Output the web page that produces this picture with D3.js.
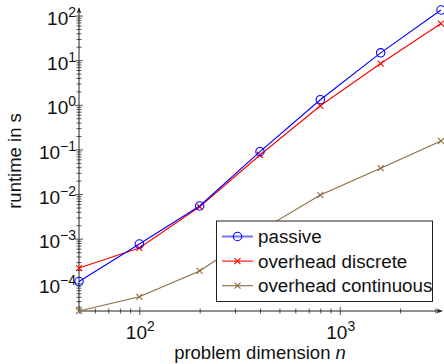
<!DOCTYPE html>
<html>
<head>
<meta charset="utf-8">
<script src="https://cdn.jsdelivr.net/npm/d3@7"></script>
<style>
  body { margin: 0; background: #fff; }
  svg { display: block; font-family: "Liberation Sans", Arial, sans-serif; }
</style>
</head>
<body>
<svg id="chart" width="444" height="364"></svg>
<script>
// problem dimension n
var dims = [50, 100, 200, 400, 800, 1600, 3200];
// runtime in s
var passive = [1.1e-4, 7.6e-4, 5.4e-3, 0.089, 1.3, 14.6, 133];
var overheadDiscrete = [2.2e-4, 6.2e-4, 5.2e-3, 0.075, 0.95, 8.4, 66];
var overheadContinuous = [2.4e-5, 5.0e-5, 1.9e-4, 1.5e-3, 9.5e-3, 0.038, 0.155];
var seriesNames = ['passive', 'overhead discrete', 'overhead continuous'];
var xTickExps = [2, 3];
var yTickExps = [-4, -3, -2, -1, 0, 1, 2];

var series = [
    {name: seriesNames[0], values: passive, color: '#0000ff', mark: 'o'},
    {name: seriesNames[1], values: overheadDiscrete, color: '#ff0000', mark: 'x'},
    {name: seriesNames[2], values: overheadContinuous, color: '#8f6a3f', mark: 'x'}
];

var svg = d3.select('#chart');
var allVals = passive.concat(overheadDiscrete, overheadContinuous);

var x = d3.scaleLog().domain(d3.extent(dims)).range([79, 441]);
var y = d3.scaleLog().domain(d3.extent(allVals)).range([311, 10]);

function minorTicks(scale) {
    var d = scale.domain(), out = [];
    var lo = Math.floor(Math.log10(d[0])), hi = Math.ceil(Math.log10(d[1]));
    for (var k = lo; k <= hi; k++) {
        for (var m = 1; m < 10; m++) {
            var v = m * Math.pow(10, k);
            if (v >= d[0] * 0.999 && v <= d[1] * 1.001) out.push(v);
        }
    }
    return out;
}

// y axis
var yAxis = svg.append('g').attr('transform', 'translate(79,0)')
    .call(d3.axisLeft(y).tickValues(minorTicks(y)).tickFormat('').tickSizeOuter(0));
yAxis.select('.domain').remove();
yAxis.selectAll('.tick line').attr('stroke', '#555')
    .attr('x1', function(d) { return Number.isInteger(Math.log10(d)) ? -4 : -2.5; })
    .attr('x2', function(d) { return Number.isInteger(Math.log10(d)) ? 4 : 2.5; });

// x axis
var xAxis = svg.append('g').attr('transform', 'translate(0,311)')
    .call(d3.axisBottom(x).tickValues(minorTicks(x)).tickFormat('').tickSizeOuter(0));
xAxis.select('.domain').remove();
xAxis.selectAll('.tick line').attr('stroke', '#555')
    .attr('y1', function(d) { return Number.isInteger(Math.log10(d)) ? -4 : -2.5; })
    .attr('y2', function(d) { return Number.isInteger(Math.log10(d)) ? 4 : 2.5; });

// axis lines with arrows
svg.append('defs').append('marker')
    .attr('id', 'arrow').attr('viewBox', '0 0 10 10')
    .attr('refX', 9).attr('refY', 5)
    .attr('markerWidth', 6).attr('markerHeight', 6)
    .attr('orient', 'auto')
    .append('path').attr('d', 'M0,1 L10,5 L0,9 L2.5,5 Z').attr('fill', '#222');

svg.append('line').attr('x1', 79).attr('y1', 311).attr('x2', 79).attr('y2', 8)
    .attr('stroke', '#222').attr('stroke-width', 1).attr('marker-end', 'url(#arrow)');
svg.append('line').attr('x1', 79).attr('y1', 311).attr('x2', 442).attr('y2', 311)
    .attr('stroke', '#222').attr('stroke-width', 1).attr('marker-end', 'url(#arrow)');

// tick labels
function powLabel(g, exp) {
    g.append('tspan').text('10');
    g.append('tspan').attr('font-size', 14).attr('dy', -8).text(exp < 0 ? '\u2212' + (-exp) : exp);
}
yTickExps.forEach(function(e) {
    var t = svg.append('text').attr('x', 76).attr('y', y(Math.pow(10, e)) + 9.5)
        .attr('text-anchor', 'end').attr('font-size', 19).attr('fill', '#111');
    powLabel(t, e);
});
xTickExps.forEach(function(e) {
    var t = svg.append('text').attr('x', x(Math.pow(10, e)) + 1).attr('y', 339)
        .attr('text-anchor', 'middle').attr('font-size', 19).attr('fill', '#111');
    powLabel(t, e);
});

// axis titles
var xt = svg.append('text').attr('x', 260).attr('y', 359).attr('text-anchor', 'middle')
    .attr('font-size', 18.5).attr('fill', '#111');
xt.append('tspan').text('problem dimension ');
xt.append('tspan').attr('font-style', 'italic').text('n');

svg.append('text').attr('transform', 'translate(21,161) rotate(-90)')
    .attr('text-anchor', 'middle').attr('font-size', 18.5).attr('fill', '#111')
    .text('runtime in s');

// marks
function drawMark(g, cx, cy, s) {
    if (s.mark === 'o') {
        g.append('circle').attr('cx', cx).attr('cy', cy).attr('r', 4.2)
            .attr('fill', 'none').attr('stroke', s.color).attr('stroke-width', 1.1);
    } else {
        var r = 3;
        g.append('path')
            .attr('d', 'M' + (cx - r) + ',' + (cy - r) + 'L' + (cx + r) + ',' + (cy + r) +
                       'M' + (cx - r) + ',' + (cy + r) + 'L' + (cx + r) + ',' + (cy - r))
            .attr('stroke', s.color).attr('stroke-width', 1.1);
    }
}

var line = d3.line()
    .x(function(d, i) { return x(dims[i]); })
    .y(function(d) { return y(d); });

series.slice().reverse().forEach(function(s) {
    var g = svg.append('g');
    g.append('path').datum(s.values).attr('d', line)
        .attr('fill', 'none').attr('stroke', s.color).attr('stroke-width', 1.1);
    s.values.forEach(function(v, i) { drawMark(g, x(dims[i]), y(v), s); });
});

// legend
var leg = svg.append('g');
leg.append('rect').attr('x', 216.5).attr('y', 221).attr('width', 216).attr('height', 80.5)
    .attr('fill', '#fff').attr('stroke', '#222').attr('stroke-width', 1);
series.forEach(function(s, i) {
    var cy = 236.5 + i * 24.6;
    var l = leg.append('line').attr('x1', 222).attr('x2', 253).attr('y1', cy).attr('y2', cy)
        .attr('stroke', s.color).attr('stroke-width', 1.1);
    if (i === 0) l.attr('stroke-width', 2).attr('stroke-opacity', 0.55);
    drawMark(leg, 237.5, cy, s);
    leg.append('text').attr('x', 258).attr('y', cy + 6.5).attr('font-size', 18.8)
        .attr('fill', '#111').text(s.name);
});
</script>
</body>
</html>
